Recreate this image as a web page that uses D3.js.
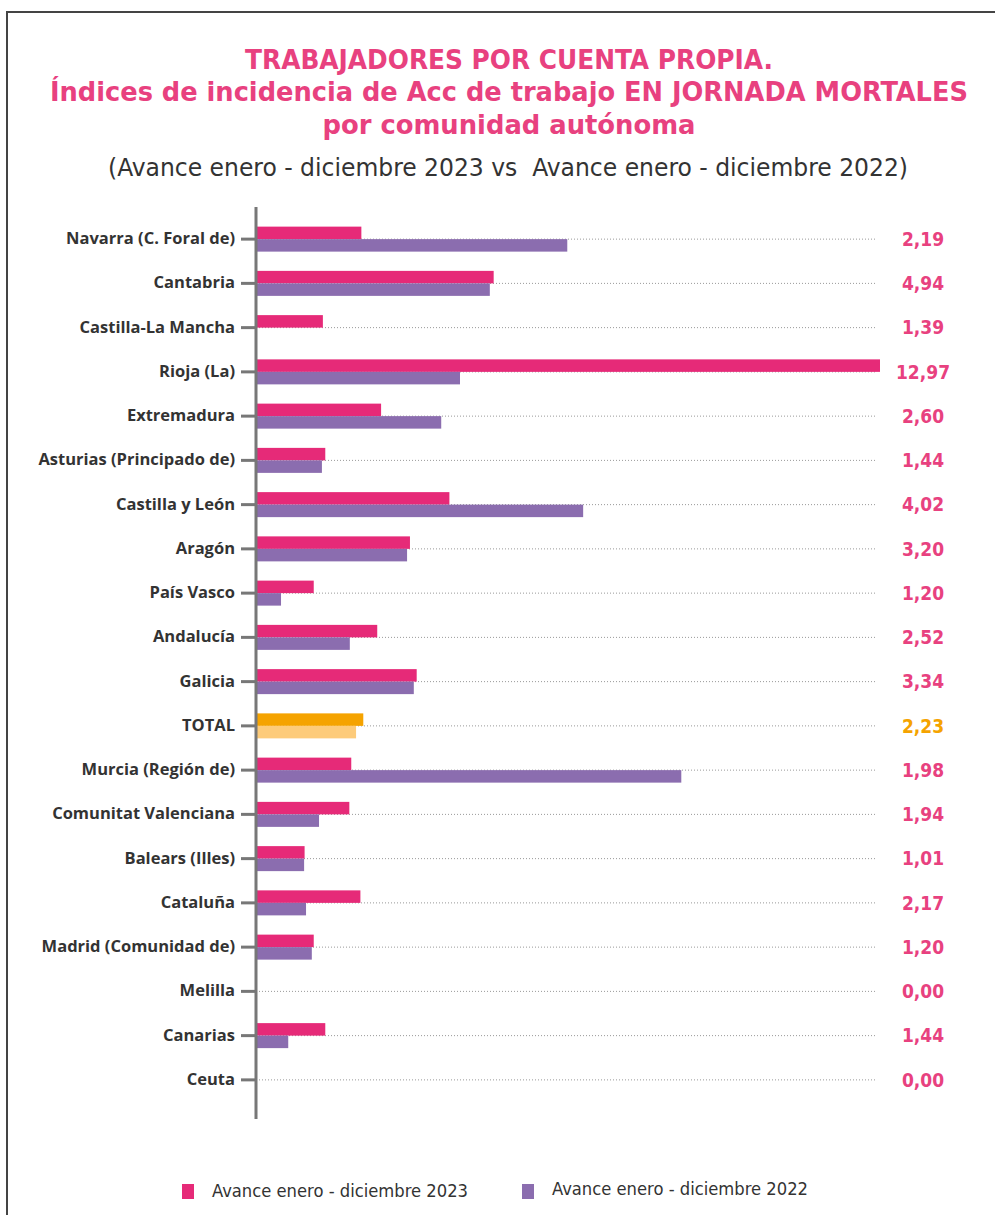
<!DOCTYPE html>
<html>
<head>
<meta charset="utf-8">
<script src="https://cdn.jsdelivr.net/npm/d3@7"></script>
<style>
  body { margin: 0; background: #fff; }
  svg { display: block; }
</style>
</head>
<body>
<div id="chart"></div>
<script>
// datos
const regiones = ["Navarra (C. Foral de)", "Cantabria", "Castilla-La Mancha", "Rioja (La)", "Extremadura",
  "Asturias (Principado de)", "Castilla y León", "Aragón", "País Vasco", "Andalucía", "Galicia", "TOTAL",
  "Murcia (Región de)", "Comunitat Valenciana", "Balears (Illes)", "Cataluña", "Madrid (Comunidad de)",
  "Melilla", "Canarias", "Ceuta"];
const valores2023 = [2.19, 4.94, 1.39, 12.97, 2.60, 1.44, 4.02, 3.20, 1.20, 2.52, 3.34, 2.23, 1.98, 1.94, 1.01, 2.17, 1.20, 0.00, 1.44, 0.00];
const valores2022 = [6.47, 4.86, 0.00, 4.24, 3.85, 1.37, 6.80, 3.14, 0.52, 1.95, 3.28, 2.08, 8.84, 1.31, 1.00, 1.04, 1.16, 0.00, 0.67, 0.00];
const series = ["Avance enero - diciembre 2023", "Avance enero - diciembre 2022"];

const width = 995, height = 1215;
const pink = "#e62a78", purple = "#8b6daf";
const orange = "#f5a300", lightOrange = "#fdcb7a";
const titleColor = "#e8417f";

const data = regiones.map((r, i) => ({ region: r, v23: valores2023[i], v22: valores2022[i] }));

const svg = d3.select("#chart").append("svg")
  .attr("width", width)
  .attr("height", height);

// marco
svg.append("path")
  .attr("d", "M7,1215 L7,12 L995,12")
  .attr("fill", "none")
  .attr("stroke", "#444")
  .attr("stroke-width", 2);

// titulos
const titleFont = "'DejaVu Sans Condensed', 'Liberation Sans Narrow', sans-serif";
const titles = [
  { t: "TRABAJADORES POR CUENTA PROPIA.", y: 69, w: 528 },
  { t: "Índices de incidencia de Acc de trabajo EN JORNADA MORTALES", y: 101, w: 918 },
  { t: "por comunidad autónoma", y: 134, w: 373 }
];
svg.selectAll(".title").data(titles).enter().append("text")
  .attr("class", "title")
  .attr("x", 509)
  .attr("y", d => d.y)
  .attr("text-anchor", "middle")
  .attr("textLength", d => d.w)
  .attr("lengthAdjust", "spacingAndGlyphs")
  .style("font-family", titleFont)
  .style("font-weight", "bold")
  .style("font-size", "27px")
  .style("fill", titleColor)
  .text(d => d.t);

svg.append("text")
  .attr("x", 508)
  .attr("y", 176)
  .attr("text-anchor", "middle")
  .attr("textLength", 800)
  .attr("lengthAdjust", "spacingAndGlyphs")
  .style("white-space", "pre")
  .style("font-family", titleFont)
  .style("font-size", "25px")
  .style("fill", "#333")
  .text("(Avance enero - diciembre 2023 vs  Avance enero - diciembre 2022)");

// escalas
const x = d3.scaleLinear().domain([0, 12.97]).range([256, 880]);
const y = d3.scaleBand().domain(regiones).range([217, 1102]);
const barH = 12.5;

// lineas punteadas
svg.selectAll(".grid").data(data).enter().append("line")
  .attr("class", "grid")
  .attr("x1", 256)
  .attr("x2", 877)
  .attr("y1", d => y(d.region) + y.bandwidth() / 2)
  .attr("y2", d => y(d.region) + y.bandwidth() / 2)
  .attr("stroke", "#999")
  .attr("stroke-width", 1)
  .attr("stroke-dasharray", "1,2");

// barras
svg.selectAll(".bar23").data(data).enter().append("rect")
  .attr("class", "bar23")
  .attr("x", x(0))
  .attr("y", d => y(d.region) + y.bandwidth() / 2 - barH)
  .attr("width", d => x(d.v23) - x(0))
  .attr("height", barH)
  .attr("fill", d => d.region === "TOTAL" ? orange : pink);

svg.selectAll(".bar22").data(data).enter().append("rect")
  .attr("class", "bar22")
  .attr("x", x(0))
  .attr("y", d => y(d.region) + y.bandwidth() / 2)
  .attr("width", d => x(d.v22) - x(0))
  .attr("height", barH)
  .attr("fill", d => d.region === "TOTAL" ? lightOrange : purple);

// eje
const axis = d3.axisLeft(y).tickSize(15).tickPadding(6);
const gAxis = svg.append("g")
  .attr("transform", "translate(256,0)")
  .call(axis);
gAxis.select(".domain").remove();
gAxis.selectAll(".tick line").attr("stroke", "#777").attr("stroke-width", 3);
gAxis.selectAll(".tick text")
  .attr("dy", "0.3em")
  .style("font-family", "'Open Sans', sans-serif")
  .style("font-weight", "bold")
  .style("font-size", "16.5px")
  .style("fill", "#333");

svg.append("line")
  .attr("x1", 256).attr("x2", 256)
  .attr("y1", 207).attr("y2", 1119)
  .attr("stroke", "#777")
  .attr("stroke-width", 3);

// etiquetas de valor
const fmt = d3.format(".2f");
svg.selectAll(".val").data(data).enter().append("text")
  .attr("class", "val")
  .attr("x", 923)
  .attr("y", d => y(d.region) + y.bandwidth() / 2)
  .attr("dy", "0.35em")
  .attr("text-anchor", "middle")
  .style("font-family", titleFont)
  .style("font-weight", "bold")
  .style("font-size", "19px")
  .style("fill", d => d.region === "TOTAL" ? orange : titleColor)
  .text(d => fmt(d.v23).replace(".", ","));

// leyenda
const legend = [
  { name: series[0], color: pink, x: 182, y: 1191 },
  { name: series[1], color: purple, x: 522, y: 1189 }
];
const lg = svg.selectAll(".legend").data(legend).enter().append("g")
  .attr("class", "legend")
  .attr("transform", d => `translate(${d.x},${d.y})`);
lg.append("rect")
  .attr("x", 0).attr("y", d => d.color === pink ? -7 : -5)
  .attr("width", 12).attr("height", 15)
  .attr("fill", d => d.color);
lg.append("text")
  .attr("x", 30)
  .attr("y", 0)
  .attr("dy", "0.35em")
  .attr("textLength", 256)
  .attr("lengthAdjust", "spacingAndGlyphs")
  .style("font-family", titleFont)
  .style("font-size", "17px")
  .style("fill", "#333")
  .text(d => d.name);
</script>
</body>
</html>
